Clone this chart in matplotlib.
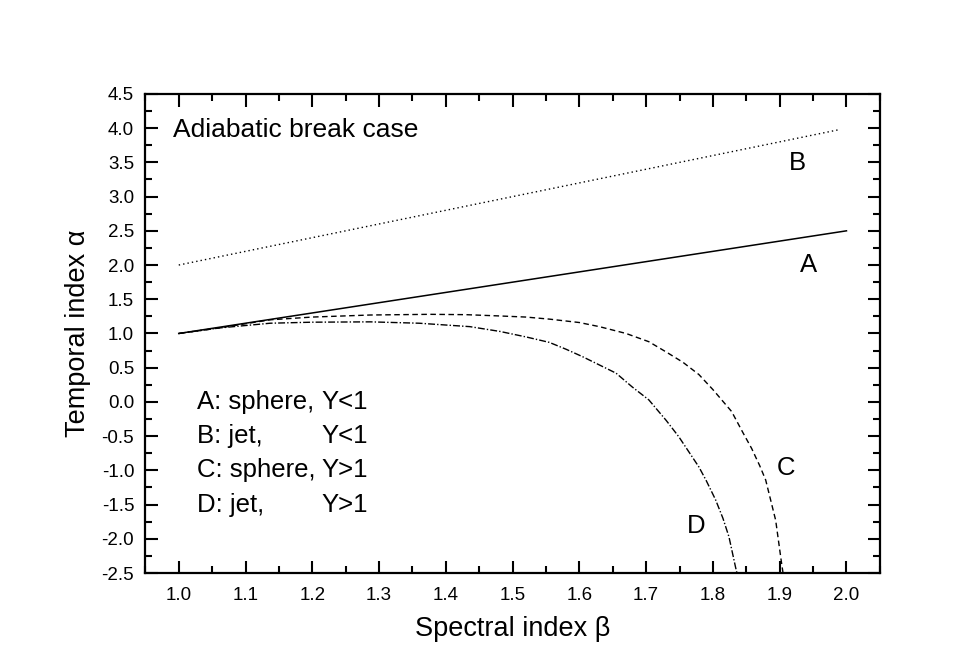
import matplotlib
matplotlib.use("Agg")
import matplotlib.pyplot as plt
from matplotlib.ticker import MultipleLocator

plt.rcParams['font.family'] = ['Liberation Sans', 'DejaVu Sans']

# A: sphere, Y<1  and  B: jet, Y<1 (straight lines)
beta_A = [1.0, 2.0]
alpha_A = [1.0, 2.5]
beta_B = [1.0, 1.99]
alpha_B = [2.0, 3.98]

# C: sphere, Y>1
beta_C = [1.0, 1.06, 1.137, 1.2, 1.287, 1.376, 1.43, 1.481, 1.52, 1.555, 1.6, 1.63, 1.67,
          1.704, 1.73, 1.755, 1.779, 1.80, 1.828, 1.845, 1.858, 1.87, 1.879, 1.894, 1.902, 1.905]
alpha_C = [1.0, 1.08, 1.20, 1.24, 1.27, 1.28, 1.275, 1.256, 1.24, 1.21, 1.16, 1.10, 1.0,
           0.88, 0.73, 0.58, 0.40, 0.18, -0.14, -0.45, -0.68, -0.93, -1.14, -1.73, -2.3, -2.5]

# D: jet, Y>1
beta_D = [1.0, 1.06, 1.137, 1.2, 1.287, 1.36, 1.436, 1.481, 1.52, 1.555, 1.58, 1.605, 1.63,
          1.655, 1.679, 1.704, 1.73, 1.749, 1.779, 1.79, 1.804, 1.815, 1.824, 1.834, 1.836]
alpha_D = [1.0, 1.08, 1.15, 1.165, 1.17, 1.15, 1.10, 1.03, 0.95, 0.87, 0.77, 0.66, 0.54,
           0.42, 0.22, 0.03, -0.27, -0.51, -0.95, -1.15, -1.43, -1.70, -1.97, -2.42, -2.5]

curve_names = ['A', 'B', 'C', 'D']
name_x = [1.943, 1.927, 1.909, 1.775]
name_y = [2.0, 3.49, -0.965, -1.81]

legend_left = ['A: sphere,', 'B: jet,', 'C: sphere,', 'D: jet,']
legend_right = ['Y<1', 'Y<1', 'Y>1', 'Y>1']
legend_y = [0.0, -0.5, -1.0, -1.5]

fig = plt.figure(figsize=(9.69, 6.71), dpi=100)
ax = fig.add_axes([0.150, 0.146, 0.758, 0.714])

ax.plot(beta_A, alpha_A, color='black', lw=1.1, ls='-')
ax.plot(beta_B, alpha_B, color='black', lw=1.0, ls=(0, (1, 2.2)))
ax.plot(beta_C, alpha_C, color='black', lw=1.0, ls=(0, (4, 2.5)))
ax.plot(beta_D, alpha_D, color='black', lw=1.0, ls=(0, (5, 1.5, 1, 1.5)))

for n, x, y in zip(curve_names, name_x, name_y):
    ax.text(x, y, n, fontsize=18.5, ha='center', va='center')

ax.text(0.991, 3.97, 'Adiabatic break case', fontsize=19, ha='left', va='center')
for l, r, y in zip(legend_left, legend_right, legend_y):
    ax.text(1.027, y, l, fontsize=18.5, ha='left', va='center')
    ax.text(1.2134, y, r, fontsize=18.5, ha='left', va='center')

ax.set_xlim(0.95, 2.05)
ax.set_ylim(-2.5, 4.5)
ax.xaxis.set_major_locator(MultipleLocator(0.1))
ax.xaxis.set_minor_locator(MultipleLocator(0.05))
ax.yaxis.set_major_locator(MultipleLocator(0.5))
ax.yaxis.set_minor_locator(MultipleLocator(0.25))
ax.xaxis.set_major_formatter(plt.FormatStrFormatter('%.1f'))
ax.yaxis.set_major_formatter(plt.FormatStrFormatter('%.1f'))

ax.tick_params(which='both', direction='in', top=True, right=True, width=1.5,
               labelsize=13.5, pad=8)
ax.tick_params(axis='x', which='major', pad=10)
ax.tick_params(which='major', length=9)
ax.tick_params(which='minor', length=5)
for s in ax.spines.values():
    s.set_linewidth(1.6)

ax.set_xlabel('Spectral index β', fontsize=19.5, labelpad=9)
ax.set_ylabel('Temporal index α', fontsize=19.5, labelpad=8)

fig.savefig('out.png', dpi=100)
